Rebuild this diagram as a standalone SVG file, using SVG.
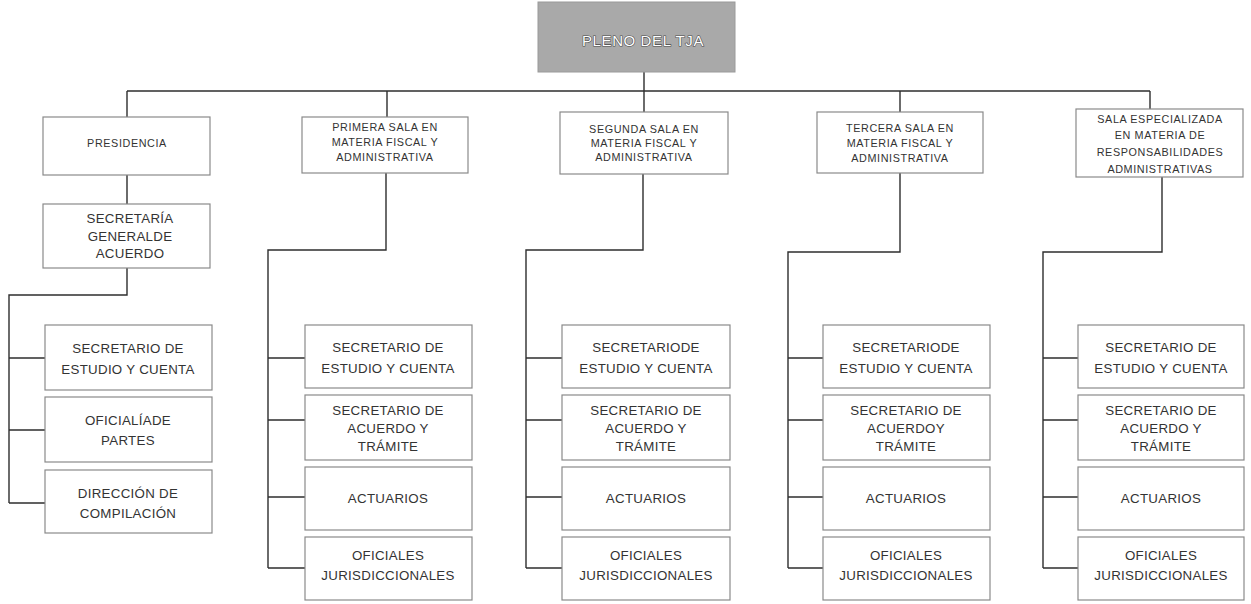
<svg xmlns="http://www.w3.org/2000/svg" width="1251" height="604" viewBox="0 0 1251 604">
<defs>
<style>
.box{fill:#fff;stroke:#8a8a8a;stroke-width:1.2}
.top{fill:#a9a9a9;stroke:#9a9a9a;stroke-width:1}
.ln{stroke:#2e2e2e;stroke-width:1.4;fill:none}
.t{font-family:"Liberation Sans",Arial,sans-serif;fill:#333;text-anchor:middle}
.s{font-size:10.8px;letter-spacing:0.6px}
.m{font-size:13.3px;letter-spacing:0.3px}
.w{font-family:"Liberation Sans",Arial,sans-serif;font-size:15px;letter-spacing:0.6px;fill:#fff;stroke:#4a4a4a;stroke-width:1.2;paint-order:stroke;text-anchor:middle}
</style>
</defs>
<rect width="1251" height="604" fill="#fff"/>
<g id="connectors">
<path class="ln" d="M644 72V112M127 91H1150M127 91V117M387 91V117M900 91V112M1150 91V109"/>
<path class="ln" d="M127 175V204M127 268V295H9V503M9 358H45M9 430H45M9 503H45"/>
<path class="ln" d="M386 173V250H268V568M268 358H305M268 420H305M268 497H305M268 568H305"/>
<path class="ln" d="M643 174V250H526V568M526 358H562M526 420H562M526 497H562M526 568H562"/>
<path class="ln" d="M900 173V252H788V568M788 358H823M788 420H823M788 497H823M788 568H823"/>
<path class="ln" d="M1162 177V252H1043V568M1043 358H1078M1043 420H1078M1043 497H1078M1043 568H1078"/>
</g>
<g id="pleno"><rect class="top" x="538" y="2" width="197" height="70"/><text class="w" x="643" y="46">PLENO DEL TJA</text></g>
<g id="presidencia"><rect class="box" x="43" y="117" width="167" height="58"/><text class="t s" x="127" y="147">PRESIDENCIA</text></g>
<g id="primera"><rect class="box" x="302" y="117" width="166" height="56"/><text class="t s" x="385"><tspan x="385" y="131">PRIMERA SALA EN</tspan><tspan x="385" y="146">MATERIA FISCAL Y</tspan><tspan x="385" y="161">ADMINISTRATIVA</tspan></text></g>
<g id="segunda"><rect class="box" x="560" y="112" width="168" height="62"/><text class="t s" x="644"><tspan x="644" y="133">SEGUNDA SALA EN</tspan><tspan x="644" y="147">MATERIA FISCAL Y</tspan><tspan x="644" y="161">ADMINISTRATIVA</tspan></text></g>
<g id="tercera"><rect class="box" x="817" y="112" width="166" height="61"/><text class="t s" x="900"><tspan x="900" y="132">TERCERA SALA EN</tspan><tspan x="900" y="147">MATERIA FISCAL Y</tspan><tspan x="900" y="162">ADMINISTRATIVA</tspan></text></g>
<g id="especializada"><rect class="box" x="1076" y="109" width="167" height="68"/><text class="t s" x="1160"><tspan x="1160" y="123">SALA ESPECIALIZADA</tspan><tspan x="1160" y="139">EN MATERIA DE</tspan><tspan x="1160" y="156">RESPONSABILIDADES</tspan><tspan x="1160" y="173">ADMINISTRATIVAS</tspan></text></g>
<g id="secgeneral"><rect class="box" x="43" y="204" width="167" height="64"/><text class="t m" x="130"><tspan x="130" y="223">SECRETARÍA</tspan><tspan x="130" y="241">GENERALDE</tspan><tspan x="130" y="258">ACUERDO</tspan></text></g>
<g id="c1-estudio"><rect class="box" x="45" y="325" width="167" height="65"/><text class="t m" x="128"><tspan x="128" y="353">SECRETARIO DE</tspan><tspan x="128" y="374">ESTUDIO Y CUENTA</tspan></text></g>
<g id="c1-oficialia"><rect class="box" x="45" y="397" width="167" height="65"/><text class="t m" x="128"><tspan x="128" y="425">OFICIALÍADE</tspan><tspan x="128" y="445">PARTES</tspan></text></g>
<g id="c1-direccion"><rect class="box" x="45" y="470" width="167" height="63"/><text class="t m" x="128"><tspan x="128" y="498">DIRECCIÓN DE</tspan><tspan x="128" y="518">COMPILACIÓN</tspan></text></g>
<g id="c2-estudio"><rect class="box" x="305" y="325" width="167" height="63"/><text class="t m" x="388"><tspan x="388" y="352">SECRETARIO DE</tspan><tspan x="388" y="373">ESTUDIO Y CUENTA</tspan></text></g>
<g id="c2-acuerdo"><rect class="box" x="305" y="395" width="167" height="65"/><text class="t m" x="388"><tspan x="388" y="415">SECRETARIO DE</tspan><tspan x="388" y="433">ACUERDO Y</tspan><tspan x="388" y="451">TRÁMITE</tspan></text></g>
<g id="c2-actuarios"><rect class="box" x="305" y="467" width="167" height="63"/><text class="t m" x="388" y="503">ACTUARIOS</text></g>
<g id="c2-oficiales"><rect class="box" x="305" y="537" width="167" height="63"/><text class="t m" x="388"><tspan x="388" y="560">OFICIALES</tspan><tspan x="388" y="580">JURISDICCIONALES</tspan></text></g>
<g id="c3-estudio"><rect class="box" x="562" y="325" width="168" height="63"/><text class="t m" x="646"><tspan x="646" y="352">SECRETARIODE</tspan><tspan x="646" y="373">ESTUDIO Y CUENTA</tspan></text></g>
<g id="c3-acuerdo"><rect class="box" x="562" y="395" width="168" height="65"/><text class="t m" x="646"><tspan x="646" y="415">SECRETARIO DE</tspan><tspan x="646" y="433">ACUERDO Y</tspan><tspan x="646" y="451">TRÁMITE</tspan></text></g>
<g id="c3-actuarios"><rect class="box" x="562" y="467" width="168" height="63"/><text class="t m" x="646" y="503">ACTUARIOS</text></g>
<g id="c3-oficiales"><rect class="box" x="562" y="537" width="168" height="63"/><text class="t m" x="646"><tspan x="646" y="560">OFICIALES</tspan><tspan x="646" y="580">JURISDICCIONALES</tspan></text></g>
<g id="c4-estudio"><rect class="box" x="823" y="325" width="167" height="63"/><text class="t m" x="906"><tspan x="906" y="352">SECRETARIODE</tspan><tspan x="906" y="373">ESTUDIO Y CUENTA</tspan></text></g>
<g id="c4-acuerdo"><rect class="box" x="823" y="395" width="167" height="65"/><text class="t m" x="906"><tspan x="906" y="415">SECRETARIO DE</tspan><tspan x="906" y="433">ACUERDOY</tspan><tspan x="906" y="451">TRÁMITE</tspan></text></g>
<g id="c4-actuarios"><rect class="box" x="823" y="467" width="167" height="63"/><text class="t m" x="906" y="503">ACTUARIOS</text></g>
<g id="c4-oficiales"><rect class="box" x="823" y="537" width="167" height="63"/><text class="t m" x="906"><tspan x="906" y="560">OFICIALES</tspan><tspan x="906" y="580">JURISDICCIONALES</tspan></text></g>
<g id="c5-estudio"><rect class="box" x="1078" y="325" width="166" height="63"/><text class="t m" x="1161"><tspan x="1161" y="352">SECRETARIO DE</tspan><tspan x="1161" y="373">ESTUDIO Y CUENTA</tspan></text></g>
<g id="c5-acuerdo"><rect class="box" x="1078" y="395" width="166" height="65"/><text class="t m" x="1161"><tspan x="1161" y="415">SECRETARIO DE</tspan><tspan x="1161" y="433">ACUERDO Y</tspan><tspan x="1161" y="451">TRÁMITE</tspan></text></g>
<g id="c5-actuarios"><rect class="box" x="1078" y="467" width="166" height="63"/><text class="t m" x="1161" y="503">ACTUARIOS</text></g>
<g id="c5-oficiales"><rect class="box" x="1078" y="537" width="166" height="63"/><text class="t m" x="1161"><tspan x="1161" y="560">OFICIALES</tspan><tspan x="1161" y="580">JURISDICCIONALES</tspan></text></g>
</svg>
